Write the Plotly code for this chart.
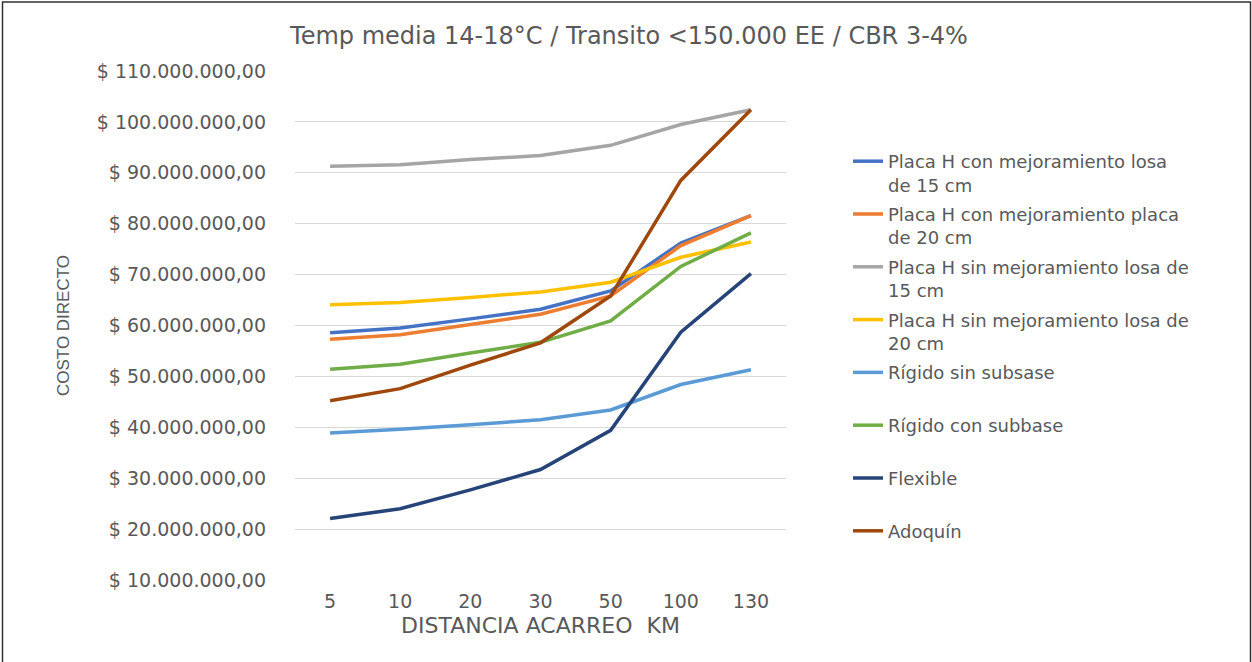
import plotly.graph_objects as go

distancias = ["5", "10", "20", "30", "50", "100", "130"]

placa_h_con_mej_losa15 = [58.6e6, 59.5e6, 61.3e6, 63.2e6, 66.8e6, 76.2e6, 81.6e6]
placa_h_con_mej_placa20 = [57.3e6, 58.2e6, 60.2e6, 62.2e6, 65.8e6, 75.7e6, 81.6e6]
placa_h_sin_mej_losa15 = [91.3e6, 91.6e6, 92.6e6, 93.4e6, 95.4e6, 99.5e6, 102.4e6]
placa_h_sin_mej_losa20 = [64.1e6, 64.5e6, 65.5e6, 66.6e6, 68.5e6, 73.4e6, 76.4e6]
rigido_sin_subsase = [38.9e6, 39.6e6, 40.5e6, 41.5e6, 43.4e6, 48.4e6, 51.3e6]
rigido_con_subbase = [51.4e6, 52.4e6, 54.6e6, 56.7e6, 60.9e6, 71.6e6, 78.2e6]
flexible = [22.1e6, 24.0e6, 27.7e6, 31.7e6, 39.4e6, 58.7e6, 70.2e6]
adoquin = [45.2e6, 47.6e6, 52.2e6, 56.6e6, 65.8e6, 88.5e6, 102.4e6]

series_names = [
    "Placa H con mejoramiento losa<br>de 15 cm",
    "Placa H con mejoramiento placa<br>de 20 cm",
    "Placa H sin mejoramiento losa de<br>15 cm",
    "Placa H sin mejoramiento losa de<br>20 cm",
    "Rígido sin subsase<br> ",
    "Rígido con subbase<br> ",
    "Flexible<br> ",
    "Adoquín<br> ",
]
series_values = [
    placa_h_con_mej_losa15, placa_h_con_mej_placa20, placa_h_sin_mej_losa15,
    placa_h_sin_mej_losa20, rigido_sin_subsase, rigido_con_subbase, flexible, adoquin,
]
series_colors = ["#4472C4", "#ED7D31", "#A5A5A5", "#FFC000",
                 "#5B9BD5", "#70AD47", "#264478", "#9E480E"]

y_tickvals = [10e6, 20e6, 30e6, 40e6, 50e6, 60e6, 70e6, 80e6, 90e6, 100e6, 110e6]
y_ticktext = ["$ 10.000.000,00", "$ 20.000.000,00", "$ 30.000.000,00", "$ 40.000.000,00",
              "$ 50.000.000,00", "$ 60.000.000,00", "$ 70.000.000,00", "$ 80.000.000,00",
              "$ 90.000.000,00", "$ 100.000.000,00", "$ 110.000.000,00"]

TXT = "#595959"
FONT = "DejaVu Sans"

fig = go.Figure()
for i, (name, vals, col) in enumerate(zip(series_names, series_values, series_colors)):
    fig.add_trace(go.Scatter(
        x=distancias, y=vals, name=name, mode="lines", legendgroup=f"g{i}",
        line=dict(color=col, width=3.5),
    ))

W, H = 1252, 662
L, R, T, B = 295, 466, 71, 82
pw, ph = W - L - R, H - T - B

fig.update_layout(
    width=W, height=H, autosize=False,
    margin=dict(l=L, r=R, t=T, b=B),
    paper_bgcolor="white", plot_bgcolor="white",
    font=dict(family=FONT, color=TXT),
    title=dict(text="Temp media 14-18°C / Transito <150.000 EE / CBR 3-4%",
               font=dict(family=FONT, size=24, color=TXT),
               xref="paper", x=(629 - L) / pw, xanchor="center",
               yref="container", y=1 - 36 / H, yanchor="middle"),
    xaxis=dict(type="category", range=[-0.5, 6.5], showgrid=False, zeroline=False,
               showline=False, ticks="", ticklabelstandoff=8,
               tickfont=dict(size=19, color=TXT, family=FONT),
               title=dict(text="DISTANCIA ACARREO  KM", font=dict(size=22, color=TXT, family=FONT),
                          standoff=6)),
    yaxis=dict(range=[10e6, 110e6], tickvals=y_tickvals, ticktext=y_ticktext,
               showgrid=True, gridcolor="#D9D9D9", gridwidth=1.2, zeroline=False,
               showline=False, ticks="", ticklabelstandoff=28,
               tickfont=dict(size=19, color=TXT, family=FONT),
               title=dict(text="COSTO DIRECTO", font=dict(size=17, color=TXT, family="Liberation Sans"),
                          standoff=22)),
    legend=dict(x=(848 - L) / pw, xanchor="left", y=(H - B - 143) / ph, yanchor="top",
                font=dict(size=18, color=TXT, family=FONT), valign="top",
                bgcolor="rgba(0,0,0,0)", tracegroupgap=3, itemwidth=30),
    showlegend=True,
    shapes=[dict(type="rect", xref="paper", yref="paper",
                 x0=(2.5 - L) / pw, x1=(1250.5 - L) / pw,
                 y0=(H - B - 670) / ph, y1=(H - B - 2) / ph,
                 line=dict(color="#303030", width=1.5), fillcolor="rgba(0,0,0,0)", layer="below")],
)

fig.write_html("out.html", config={"displayModeBar": False},
               post_script="document.body.style.margin='0';")
